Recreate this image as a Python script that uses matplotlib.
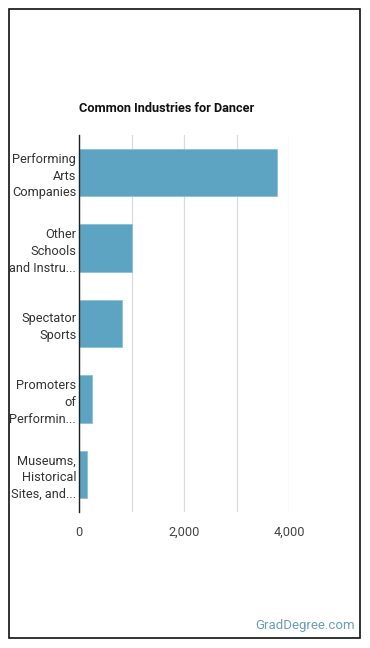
import matplotlib.pyplot as plt
from matplotlib.patches import Rectangle

plt.rcParams['font.family'] = ['Roboto', 'DejaVu Sans']

industries = ['Performing\nArts\nCompanies', 'Other\nSchools\nand Instru...', 'Spectator\nSports',
              'Promoters\nof\nPerformin...', 'Museums,\nHistorical\nSites, and...']
employment = [3780, 1010, 825, 254, 159]
xticks = [0, 2000, 4000]
xtick_labels = ['0', '2,000', '4,000']

W, H = 370, 648
fig = plt.figure(figsize=(W / 100, H / 100), dpi=100)
ax = fig.add_axes([79 / W, 1 - 512 / H, (289 - 79) / W, (512 - 135) / H])

pos = list(range(len(industries)))
ax.barh(pos, employment, height=0.63, color='#5ca4c1', edgecolor='#8cc0d6', linewidth=0.6, zorder=3)
ax.set_ylim(len(industries) - 0.5, -0.5)
ax.set_xlim(0, 4000)

ax.set_yticks(pos)
ax.set_yticklabels(industries, fontsize=9.2, color='#333333', linespacing=1.38)
ax.set_xticks(xticks)
ax.set_xticklabels(xtick_labels, fontsize=9.2, color='#444444')
ax.set_xticks([1000, 3000], minor=True)
ax.tick_params(axis='both', which='both', length=0)
ax.tick_params(axis='x', pad=10)
ax.tick_params(axis='y', pad=2)
ax.grid(axis='x', which='both', color='#dadada', linewidth=0.9, zorder=0)

for s in ['top', 'right', 'bottom']:
    ax.spines[s].set_visible(False)
ax.spines['left'].set_color('#222222')
ax.spines['left'].set_linewidth(1.0)
ax.spines['left'].set_zorder(4)

fig.text(167 / W, 1 - 108 / H, 'Common Industries for Dancer', ha='center', va='center',
         fontsize=9.2, fontweight='bold', color='#111111')
fig.text(355 / W, 1 - 626 / H, 'GradDegree.com', ha='right', va='center',
         fontsize=9.5, color='#6d9db8')

fig.patches.append(Rectangle((8.5 / W, 1 - 637.5 / H), (359.5 - 8.5) / W, (637.5 - 8.5) / H,
                             transform=fig.transFigure, fill=False, edgecolor='#111111', linewidth=1.2))

fig.savefig('out.png', dpi=100)
